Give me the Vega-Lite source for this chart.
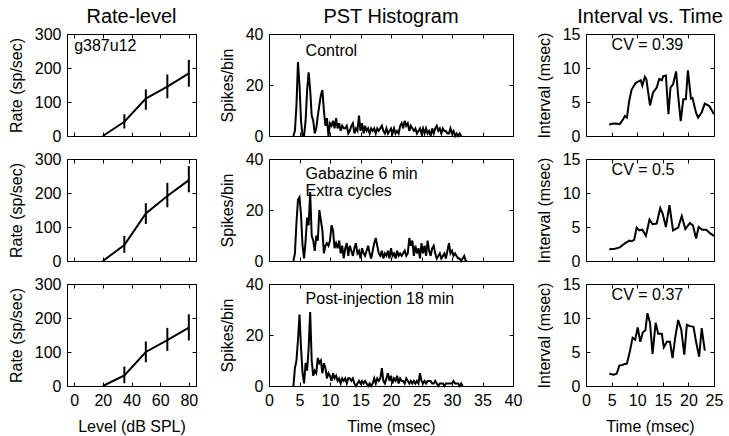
{
  "$schema": "https://vega.github.io/schema/vega-lite/v6.json",
  "background": "white",
  "padding": {"left": 7, "top": 6, "right": 5, "bottom": 5},
  "config": {
    "font": "Liberation Sans",
    "view": {"stroke": "black", "strokeWidth": 1},
    "axis": {"grid": false, "domain": false, "ticks": true, "tickSize": -4, "tickColor": "black", "tickWidth": 1,
      "labelFont": "Liberation Sans", "labelFontSize": 16, "labelColor": "black", "labelPadding": 10, "labelFlush": false,
      "titleFont": "Liberation Sans", "titleFontSize": 16, "titleFontWeight": "normal", "titleColor": "black", "titlePadding": 10},
    "title": {"font": "Liberation Sans", "fontSize": 20, "fontWeight": "normal", "color": "black", "offset": -1, "frame": "group", "anchor": "middle"},
    "text": {"font": "Liberation Sans", "fontSize": 16, "color": "black"},
    "line": {"color": "black", "strokeWidth": 2},
    "rule": {"color": "black", "strokeWidth": 2}
  },
  "datasets": {
    "rl1": [{"level":20,"rate":0},{"level":35,"rate":42,"lo":22,"hi":64},{"level":50,"rate":110,"lo":77,"hi":137},{"level":65,"rate":145,"lo":111,"hi":181},{"level":80,"rate":184,"lo":145,"hi":224}],
    "rl2": [{"level":20,"rate":0},{"level":35,"rate":47,"lo":24,"hi":74},{"level":50,"rate":140,"lo":109,"hi":170},{"level":65,"rate":191,"lo":158,"hi":230},{"level":80,"rate":238,"lo":202,"hi":279}],
    "rl3": [{"level":20,"rate":0},{"level":35,"rate":31,"lo":8,"hi":57},{"level":50,"rate":100,"lo":70,"hi":131},{"level":65,"rate":135,"lo":103,"hi":171},{"level":80,"rate":172,"lo":134,"hi":211}],
    "pst1": [{"t":4,"n":0},{"t":4.25,"n":2},{"t":4.5,"n":12},{"t":4.75,"n":29},{"t":5,"n":20},{"t":5.25,"n":6},{"t":5.5,"n":0},{"t":5.75,"n":0},{"t":6,"n":6},{"t":6.25,"n":18},{"t":6.5,"n":25},{"t":6.75,"n":18},{"t":7,"n":8},{"t":7.25,"n":6},{"t":7.5,"n":1},{"t":7.75,"n":3},{"t":8,"n":8},{"t":8.25,"n":12},{"t":8.5,"n":16},{"t":8.75,"n":18},{"t":9,"n":10},{"t":9.25,"n":4},{"t":9.5,"n":7},{"t":9.75,"n":0},{"t":10,"n":5},{"t":10.25,"n":4},{"t":10.5,"n":6},{"t":10.75,"n":3},{"t":11,"n":7},{"t":11.25,"n":3},{"t":11.5,"n":5},{"t":11.75,"n":2},{"t":12,"n":4},{"t":12.25,"n":3},{"t":12.5,"n":3},{"t":12.75,"n":4},{"t":13,"n":1},{"t":13.25,"n":2},{"t":13.5,"n":4},{"t":13.75,"n":5},{"t":14,"n":1},{"t":14.25,"n":3},{"t":14.5,"n":2},{"t":14.75,"n":8},{"t":15,"n":2},{"t":15.25,"n":5},{"t":15.5,"n":1},{"t":15.75,"n":4},{"t":16,"n":2},{"t":16.25,"n":3},{"t":16.5,"n":1},{"t":16.75,"n":3},{"t":17,"n":2},{"t":17.25,"n":3},{"t":17.5,"n":1},{"t":17.75,"n":3},{"t":18,"n":2},{"t":18.25,"n":3},{"t":18.5,"n":4},{"t":18.75,"n":2},{"t":19,"n":1},{"t":19.25,"n":3},{"t":19.5,"n":1},{"t":19.75,"n":2},{"t":20,"n":3},{"t":20.25,"n":1},{"t":20.5,"n":3},{"t":20.75,"n":1},{"t":21,"n":2},{"t":21.25,"n":1},{"t":21.5,"n":4},{"t":21.75,"n":5},{"t":22,"n":3},{"t":22.25,"n":6},{"t":22.5,"n":4},{"t":22.75,"n":5},{"t":23,"n":2},{"t":23.25,"n":4},{"t":23.5,"n":3},{"t":23.75,"n":2},{"t":24,"n":3},{"t":24.25,"n":1},{"t":24.5,"n":2},{"t":24.75,"n":3},{"t":25,"n":1},{"t":25.25,"n":3},{"t":25.5,"n":1},{"t":25.75,"n":3},{"t":26,"n":1},{"t":26.25,"n":2},{"t":26.5,"n":0},{"t":26.75,"n":3},{"t":27,"n":1},{"t":27.25,"n":3},{"t":27.5,"n":4},{"t":27.75,"n":2},{"t":28,"n":3},{"t":28.25,"n":1},{"t":28.5,"n":3},{"t":28.75,"n":2},{"t":29,"n":2},{"t":29.25,"n":1},{"t":29.5,"n":1},{"t":29.75,"n":3},{"t":30,"n":1},{"t":30.25,"n":2},{"t":30.5,"n":0},{"t":30.75,"n":1},{"t":31,"n":0},{"t":31.25,"n":1},{"t":31.5,"n":0}],
    "pst2": [{"t":4,"n":0},{"t":4.25,"n":3},{"t":4.5,"n":15},{"t":4.75,"n":24},{"t":5,"n":25},{"t":5.25,"n":18},{"t":5.5,"n":6},{"t":5.75,"n":1},{"t":6,"n":8},{"t":6.25,"n":17},{"t":6.5,"n":14},{"t":6.75,"n":27},{"t":7,"n":10},{"t":7.25,"n":8},{"t":7.5,"n":4},{"t":7.75,"n":10},{"t":8,"n":8},{"t":8.25,"n":20},{"t":8.5,"n":16},{"t":8.75,"n":12},{"t":9,"n":3},{"t":9.25,"n":6},{"t":9.5,"n":7},{"t":9.75,"n":6},{"t":10,"n":8},{"t":10.25,"n":14},{"t":10.5,"n":12},{"t":10.75,"n":5},{"t":11,"n":7},{"t":11.25,"n":5},{"t":11.5,"n":8},{"t":11.75,"n":3},{"t":12,"n":6},{"t":12.25,"n":1},{"t":12.5,"n":5},{"t":12.75,"n":7},{"t":13,"n":2},{"t":13.25,"n":6},{"t":13.5,"n":4},{"t":13.75,"n":2},{"t":14,"n":5},{"t":14.25,"n":7},{"t":14.5,"n":3},{"t":14.75,"n":4},{"t":15,"n":1},{"t":15.25,"n":5},{"t":15.5,"n":3},{"t":15.75,"n":2},{"t":16,"n":4},{"t":16.25,"n":6},{"t":16.5,"n":3},{"t":16.75,"n":1},{"t":17,"n":4},{"t":17.25,"n":7},{"t":17.5,"n":9},{"t":17.75,"n":6},{"t":18,"n":3},{"t":18.25,"n":2},{"t":18.5,"n":4},{"t":18.75,"n":1},{"t":19,"n":3},{"t":19.25,"n":2},{"t":19.5,"n":4},{"t":19.75,"n":1},{"t":20,"n":5},{"t":20.25,"n":2},{"t":20.5,"n":3},{"t":20.75,"n":1},{"t":21,"n":4},{"t":21.25,"n":2},{"t":21.5,"n":3},{"t":21.75,"n":2},{"t":22,"n":3},{"t":22.25,"n":4},{"t":22.5,"n":2},{"t":22.75,"n":3},{"t":23,"n":9},{"t":23.25,"n":6},{"t":23.5,"n":8},{"t":23.75,"n":2},{"t":24,"n":6},{"t":24.25,"n":3},{"t":24.5,"n":5},{"t":24.75,"n":1},{"t":25,"n":7},{"t":25.25,"n":3},{"t":25.5,"n":6},{"t":25.75,"n":2},{"t":26,"n":8},{"t":26.25,"n":4},{"t":26.5,"n":2},{"t":26.75,"n":5},{"t":27,"n":6},{"t":27.25,"n":3},{"t":27.5,"n":1},{"t":27.75,"n":2},{"t":28,"n":3},{"t":28.25,"n":1},{"t":28.5,"n":2},{"t":28.75,"n":3},{"t":29,"n":1},{"t":29.25,"n":4},{"t":29.5,"n":7},{"t":29.75,"n":3},{"t":30,"n":4},{"t":30.25,"n":2},{"t":30.5,"n":3},{"t":30.75,"n":2},{"t":31,"n":1},{"t":31.25,"n":1},{"t":31.5,"n":0},{"t":31.75,"n":1},{"t":32,"n":2},{"t":32.25,"n":0},{"t":32.5,"n":0}],
    "pst3": [{"t":4,"n":0},{"t":4.25,"n":7},{"t":4.5,"n":10},{"t":4.75,"n":18},{"t":5,"n":28},{"t":5.25,"n":15},{"t":5.5,"n":5},{"t":5.75,"n":1},{"t":6,"n":9},{"t":6.25,"n":6},{"t":6.5,"n":15},{"t":6.75,"n":29},{"t":7,"n":10},{"t":7.25,"n":4},{"t":7.5,"n":6},{"t":7.75,"n":5},{"t":8,"n":11},{"t":8.25,"n":9},{"t":8.5,"n":10},{"t":8.75,"n":5},{"t":9,"n":9},{"t":9.25,"n":7},{"t":9.5,"n":3},{"t":9.75,"n":5},{"t":10,"n":4},{"t":10.25,"n":2},{"t":10.5,"n":5},{"t":10.75,"n":3},{"t":11,"n":4},{"t":11.25,"n":2},{"t":11.5,"n":3},{"t":11.75,"n":1},{"t":12,"n":3},{"t":12.25,"n":2},{"t":12.5,"n":3},{"t":12.75,"n":1},{"t":13,"n":3},{"t":13.25,"n":3},{"t":13.5,"n":2},{"t":13.75,"n":3},{"t":14,"n":1},{"t":14.25,"n":0},{"t":14.5,"n":1},{"t":14.75,"n":2},{"t":15,"n":1},{"t":15.25,"n":2},{"t":15.5,"n":1},{"t":15.75,"n":2},{"t":16,"n":1},{"t":16.25,"n":0},{"t":16.5,"n":1},{"t":16.75,"n":0},{"t":17,"n":1},{"t":17.25,"n":3},{"t":17.5,"n":1},{"t":17.75,"n":3},{"t":18,"n":2},{"t":18.25,"n":3},{"t":18.5,"n":7},{"t":18.75,"n":2},{"t":19,"n":1},{"t":19.25,"n":3},{"t":19.5,"n":5},{"t":19.75,"n":2},{"t":20,"n":4},{"t":20.25,"n":1},{"t":20.5,"n":3},{"t":20.75,"n":2},{"t":21,"n":4},{"t":21.25,"n":1},{"t":21.5,"n":3},{"t":21.75,"n":2},{"t":22,"n":2},{"t":22.25,"n":1},{"t":22.5,"n":3},{"t":22.75,"n":2},{"t":23,"n":1},{"t":23.25,"n":2},{"t":23.5,"n":1},{"t":23.75,"n":2},{"t":24,"n":1},{"t":24.25,"n":2},{"t":24.5,"n":1},{"t":24.75,"n":5},{"t":25,"n":2},{"t":25.25,"n":1},{"t":25.5,"n":2},{"t":25.75,"n":1},{"t":26,"n":2},{"t":26.25,"n":2},{"t":26.5,"n":2},{"t":26.75,"n":1},{"t":27,"n":1},{"t":27.25,"n":2},{"t":27.5,"n":1},{"t":27.75,"n":0},{"t":28,"n":1},{"t":28.25,"n":1},{"t":28.5,"n":1},{"t":28.75,"n":0},{"t":29,"n":1},{"t":29.25,"n":1},{"t":29.5,"n":1},{"t":29.75,"n":1},{"t":30,"n":1},{"t":30.25,"n":2},{"t":30.5,"n":1},{"t":30.75,"n":1},{"t":31,"n":1},{"t":31.25,"n":0},{"t":31.5,"n":1},{"t":31.75,"n":0}],
    "iv1": [{"t":4.55,"v":1.65},{"t":5.0,"v":1.8},{"t":5.66,"v":1.85},{"t":6.6,"v":1.75},{"t":7.2,"v":2.4},{"t":7.6,"v":2.95},{"t":8.0,"v":2.7},{"t":8.4,"v":5.0},{"t":8.9,"v":6.8},{"t":9.7,"v":7.8},{"t":10.2,"v":8.0},{"t":10.7,"v":8.2},{"t":11.0,"v":7.4},{"t":11.5,"v":8.7},{"t":11.8,"v":8.3},{"t":12.5,"v":4.5},{"t":13.1,"v":6.4},{"t":13.8,"v":7.1},{"t":14.3,"v":8.4},{"t":14.8,"v":8.2},{"t":15.1,"v":8.8},{"t":15.6,"v":8.9},{"t":16.1,"v":3.2},{"t":16.5,"v":7.1},{"t":17.0,"v":7.6},{"t":17.6,"v":9.5},{"t":18.0,"v":5.9},{"t":18.5,"v":2.2},{"t":19.0,"v":5.4},{"t":19.5,"v":5.4},{"t":19.9,"v":9.65},{"t":20.5,"v":5.5},{"t":20.8,"v":5.6},{"t":21.5,"v":3.4},{"t":21.9,"v":2.7},{"t":22.6,"v":3.5},{"t":23.2,"v":4.75},{"t":24.1,"v":4.4},{"t":25.0,"v":3.2}],
    "iv2": [{"t":4.55,"v":1.72},{"t":5.66,"v":1.8},{"t":6.6,"v":2.0},{"t":7.6,"v":2.6},{"t":8.45,"v":3.0},{"t":8.9,"v":2.9},{"t":9.4,"v":3.1},{"t":9.9,"v":4.9},{"t":10.4,"v":4.5},{"t":11.0,"v":4.6},{"t":11.7,"v":3.7},{"t":12.4,"v":6.1},{"t":13.0,"v":5.4},{"t":13.8,"v":5.5},{"t":14.5,"v":7.8},{"t":15.0,"v":6.9},{"t":15.6,"v":5.0},{"t":16.3,"v":8.2},{"t":17.0,"v":4.5},{"t":18.0,"v":4.9},{"t":18.7,"v":6.6},{"t":19.4,"v":4.7},{"t":20.3,"v":5.6},{"t":20.9,"v":5.2},{"t":21.5,"v":3.3},{"t":22.0,"v":5.0},{"t":22.7,"v":4.6},{"t":23.5,"v":4.6},{"t":24.2,"v":4.1},{"t":25.0,"v":3.7}],
    "iv3": [{"t":4.55,"v":1.8},{"t":5.4,"v":1.65},{"t":6.0,"v":1.8},{"t":6.5,"v":3.0},{"t":7.1,"v":3.1},{"t":7.6,"v":3.25},{"t":8.0,"v":3.3},{"t":8.6,"v":5.2},{"t":9.1,"v":7.1},{"t":9.6,"v":6.8},{"t":10.1,"v":8.6},{"t":10.6,"v":6.5},{"t":11.1,"v":7.9},{"t":11.6,"v":8.2},{"t":12.0,"v":10.7},{"t":12.5,"v":9.3},{"t":13.0,"v":4.7},{"t":13.6,"v":9.3},{"t":14.1,"v":7.7},{"t":14.8,"v":7.7},{"t":15.2,"v":5.7},{"t":15.8,"v":6.5},{"t":16.4,"v":6.5},{"t":16.9,"v":4.1},{"t":17.4,"v":7.0},{"t":18.0,"v":9.7},{"t":18.6,"v":8.3},{"t":19.2,"v":4.6},{"t":19.7,"v":9.0},{"t":20.3,"v":8.8},{"t":21.0,"v":8.7},{"t":21.5,"v":6.5},{"t":22.1,"v":4.3},{"t":22.6,"v":8.5},{"t":23.2,"v":5.2}]
  },
  "columns": 3,
  "spacing": {"row": 23, "column": 73},
  "bounds": "flush",
  "align": "each",
  "concat": [
    {
      "width": 129, "height": 102,
      "title": {"text": "Rate-level"},
      "layer": [
        {"data": {"name": "rl1"}, "mark": {"type": "line"},
         "encoding": {
           "x": {"field": "level", "type": "quantitative", "scale": {"domain": [-5, 85], "nice": false, "zero": false}, "axis": {"orient": "bottom", "values": [0, 20, 40, 60, 80], "labels": false, "title": null}},
           "y": {"field": "rate", "type": "quantitative", "scale": {"domain": [0, 300], "nice": false}, "axis": {"orient": "left", "values": [0, 100, 200, 300], "title": "Rate (sp/sec)"}}}},
        {"data": {"name": "rl1"}, "transform": [{"filter": "isValid(datum.lo)"}], "mark": {"type": "rule"},
         "encoding": {
           "x": {"field": "level", "type": "quantitative", "axis": {"orient": "top", "values": [0, 20, 40, 60, 80], "labels": false, "title": null}},
           "y": {"field": "lo", "type": "quantitative", "axis": {"orient": "right", "values": [0, 100, 200, 300], "labels": false, "title": null}},
           "y2": {"field": "hi"}}},
        {"data": {"values": [{}]}, "mark": {"type": "text", "text": "g387u12", "align": "left", "baseline": "middle"},
         "encoding": {"x": {"datum": 0, "type": "quantitative", "axis": null}, "y": {"datum": 265, "type": "quantitative", "axis": null}}}
      ]
    },
    {
      "width": 244, "height": 102,
      "title": {"text": "PST Histogram"},
      "layer": [
        {"data": {"name": "pst1"}, "mark": {"type": "line"},
         "encoding": {
           "x": {"field": "t", "type": "quantitative", "scale": {"domain": [0, 40], "nice": false}, "axis": {"orient": "bottom", "values": [0, 5, 10, 15, 20, 25, 30, 35, 40], "labels": false, "title": null}},
           "y": {"field": "n", "type": "quantitative", "scale": {"domain": [0, 40], "nice": false}, "axis": {"orient": "left", "values": [0, 20, 40], "title": "Spikes/bin"}}}},
        {"data": {"values": [{}]}, "mark": {"type": "text", "text": "Control", "align": "left", "baseline": "middle"},
         "encoding": {
           "x": {"datum": 6, "type": "quantitative", "axis": {"orient": "top", "values": [0, 5, 10, 15, 20, 25, 30, 35, 40], "labels": false, "title": null}},
           "y": {"datum": 33.5, "type": "quantitative", "axis": {"orient": "right", "values": [0, 20, 40], "labels": false, "title": null}}}}
      ]
    },
    {
      "width": 128, "height": 102,
      "title": {"text": "Interval vs. Time"},
      "layer": [
        {"data": {"name": "iv1"}, "mark": {"type": "line"},
         "encoding": {
           "x": {"field": "t", "type": "quantitative", "scale": {"domain": [0, 25], "nice": false}, "axis": {"orient": "bottom", "values": [0, 5, 10, 15, 20, 25], "labels": false, "title": null}},
           "y": {"field": "v", "type": "quantitative", "scale": {"domain": [0, 15], "nice": false}, "axis": {"orient": "left", "values": [0, 5, 10, 15], "title": "Interval (msec)"}}}},
        {"data": {"values": [{}]}, "mark": {"type": "text", "text": "CV = 0.39", "align": "left", "baseline": "middle"},
         "encoding": {
           "x": {"datum": 5, "type": "quantitative", "axis": {"orient": "top", "values": [0, 5, 10, 15, 20, 25], "labels": false, "title": null}},
           "y": {"datum": 13.4, "type": "quantitative", "axis": {"orient": "right", "values": [0, 5, 10, 15], "labels": false, "title": null}}}}
      ]
    },
    {
      "width": 129, "height": 102,
      "layer": [
        {"data": {"name": "rl2"}, "mark": {"type": "line"},
         "encoding": {
           "x": {"field": "level", "type": "quantitative", "scale": {"domain": [-5, 85], "nice": false, "zero": false}, "axis": {"orient": "bottom", "values": [0, 20, 40, 60, 80], "labels": false, "title": null}},
           "y": {"field": "rate", "type": "quantitative", "scale": {"domain": [0, 300], "nice": false}, "axis": {"orient": "left", "values": [0, 100, 200, 300], "title": "Rate (sp/sec)"}}}},
        {"data": {"name": "rl2"}, "transform": [{"filter": "isValid(datum.lo)"}], "mark": {"type": "rule"},
         "encoding": {
           "x": {"field": "level", "type": "quantitative", "axis": {"orient": "top", "values": [0, 20, 40, 60, 80], "labels": false, "title": null}},
           "y": {"field": "lo", "type": "quantitative", "axis": {"orient": "right", "values": [0, 100, 200, 300], "labels": false, "title": null}},
           "y2": {"field": "hi"}}}
      ]
    },
    {
      "width": 244, "height": 102,
      "layer": [
        {"data": {"name": "pst2"}, "mark": {"type": "line"},
         "encoding": {
           "x": {"field": "t", "type": "quantitative", "scale": {"domain": [0, 40], "nice": false}, "axis": {"orient": "bottom", "values": [0, 5, 10, 15, 20, 25, 30, 35, 40], "labels": false, "title": null}},
           "y": {"field": "n", "type": "quantitative", "scale": {"domain": [0, 40], "nice": false}, "axis": {"orient": "left", "values": [0, 20, 40], "title": "Spikes/bin"}}}},
        {"data": {"values": [{}]}, "mark": {"type": "text", "text": "Gabazine 6 min", "align": "left", "baseline": "middle"},
         "encoding": {
           "x": {"datum": 6, "type": "quantitative", "axis": {"orient": "top", "values": [0, 5, 10, 15, 20, 25, 30, 35, 40], "labels": false, "title": null}},
           "y": {"datum": 34, "type": "quantitative", "axis": {"orient": "right", "values": [0, 20, 40], "labels": false, "title": null}}}},
        {"data": {"values": [{}]}, "mark": {"type": "text", "text": "Extra cycles", "align": "left", "baseline": "middle"},
         "encoding": {
           "x": {"datum": 6, "type": "quantitative", "axis": null},
           "y": {"datum": 27.6, "type": "quantitative", "axis": null}}}
      ]
    },
    {
      "width": 128, "height": 102,
      "layer": [
        {"data": {"name": "iv2"}, "mark": {"type": "line"},
         "encoding": {
           "x": {"field": "t", "type": "quantitative", "scale": {"domain": [0, 25], "nice": false}, "axis": {"orient": "bottom", "values": [0, 5, 10, 15, 20, 25], "labels": false, "title": null}},
           "y": {"field": "v", "type": "quantitative", "scale": {"domain": [0, 15], "nice": false}, "axis": {"orient": "left", "values": [0, 5, 10, 15], "title": "Interval (msec)"}}}},
        {"data": {"values": [{}]}, "mark": {"type": "text", "text": "CV = 0.5", "align": "left", "baseline": "middle"},
         "encoding": {
           "x": {"datum": 5, "type": "quantitative", "axis": {"orient": "top", "values": [0, 5, 10, 15, 20, 25], "labels": false, "title": null}},
           "y": {"datum": 13.4, "type": "quantitative", "axis": {"orient": "right", "values": [0, 5, 10, 15], "labels": false, "title": null}}}}
      ]
    },
    {
      "width": 129, "height": 102,
      "layer": [
        {"data": {"name": "rl3"}, "mark": {"type": "line"},
         "encoding": {
           "x": {"field": "level", "type": "quantitative", "scale": {"domain": [-5, 85], "nice": false, "zero": false}, "axis": {"orient": "bottom", "values": [0, 20, 40, 60, 80], "title": "Level (dB SPL)"}},
           "y": {"field": "rate", "type": "quantitative", "scale": {"domain": [0, 300], "nice": false}, "axis": {"orient": "left", "values": [0, 100, 200, 300], "title": "Rate (sp/sec)"}}}},
        {"data": {"name": "rl3"}, "transform": [{"filter": "isValid(datum.lo)"}], "mark": {"type": "rule"},
         "encoding": {
           "x": {"field": "level", "type": "quantitative", "axis": {"orient": "top", "values": [0, 20, 40, 60, 80], "labels": false, "title": null}},
           "y": {"field": "lo", "type": "quantitative", "axis": {"orient": "right", "values": [0, 100, 200, 300], "labels": false, "title": null}},
           "y2": {"field": "hi"}}}
      ]
    },
    {
      "width": 244, "height": 102,
      "layer": [
        {"data": {"name": "pst3"}, "mark": {"type": "line"},
         "encoding": {
           "x": {"field": "t", "type": "quantitative", "scale": {"domain": [0, 40], "nice": false}, "axis": {"orient": "bottom", "values": [0, 5, 10, 15, 20, 25, 30, 35, 40], "title": "Time (msec)"}},
           "y": {"field": "n", "type": "quantitative", "scale": {"domain": [0, 40], "nice": false}, "axis": {"orient": "left", "values": [0, 20, 40], "title": "Spikes/bin"}}}},
        {"data": {"values": [{}]}, "mark": {"type": "text", "text": "Post-injection 18 min", "align": "left", "baseline": "middle"},
         "encoding": {
           "x": {"datum": 6, "type": "quantitative", "axis": {"orient": "top", "values": [0, 5, 10, 15, 20, 25, 30, 35, 40], "labels": false, "title": null}},
           "y": {"datum": 34.3, "type": "quantitative", "axis": {"orient": "right", "values": [0, 20, 40], "labels": false, "title": null}}}}
      ]
    },
    {
      "width": 128, "height": 102,
      "layer": [
        {"data": {"name": "iv3"}, "mark": {"type": "line"},
         "encoding": {
           "x": {"field": "t", "type": "quantitative", "scale": {"domain": [0, 25], "nice": false}, "axis": {"orient": "bottom", "values": [0, 5, 10, 15, 20, 25], "title": "Time (msec)"}},
           "y": {"field": "v", "type": "quantitative", "scale": {"domain": [0, 15], "nice": false}, "axis": {"orient": "left", "values": [0, 5, 10, 15], "title": "Interval (msec)"}}}},
        {"data": {"values": [{}]}, "mark": {"type": "text", "text": "CV = 0.37", "align": "left", "baseline": "middle"},
         "encoding": {
           "x": {"datum": 5, "type": "quantitative", "axis": {"orient": "top", "values": [0, 5, 10, 15, 20, 25], "labels": false, "title": null}},
           "y": {"datum": 13.4, "type": "quantitative", "axis": {"orient": "right", "values": [0, 5, 10, 15], "labels": false, "title": null}}}}
      ]
    }
  ]
}
